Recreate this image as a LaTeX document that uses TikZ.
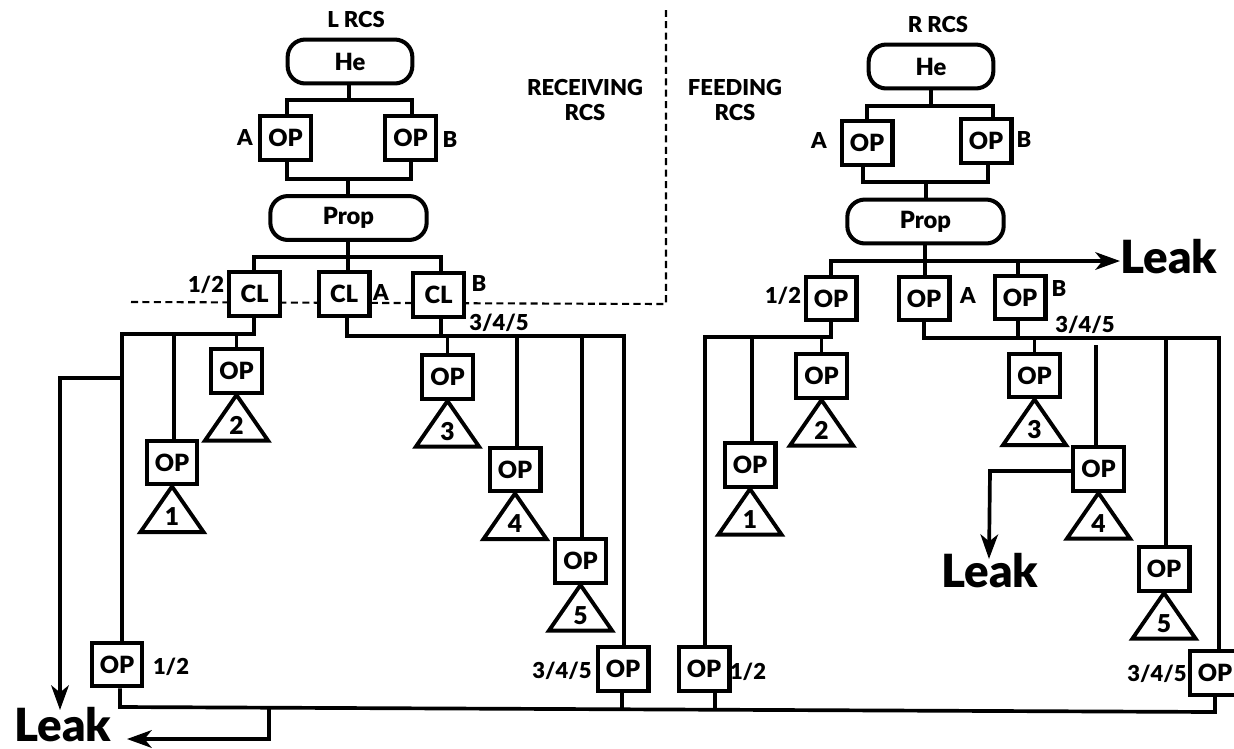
\documentclass[tikz,border=0pt]{standalone}
\usepackage{fontspec}
\setmainfont{Lato}[BoldFont={Lato Black}]
\usetikzlibrary{arrows.meta,shapes.geometric}
\tikzset{
  opbox/.style={draw, fill=white, line width=2.3pt, minimum width=29pt, minimum height=25pt, inner sep=0pt, font=\fontsize{13.5}{16}\selectfont\bfseries},
  tank/.style={draw, fill=white, line width=2.3pt, rounded corners=10pt, minimum height=25pt, inner sep=0pt, font=\fontsize{13.5}{16}\selectfont\bfseries},
  thruster/.style={draw, isosceles triangle, isosceles triangle stretches, shape border rotate=90, anchor=apex, minimum width=36pt, minimum height=26pt, inner sep=0pt, outer sep=0pt, line width=2.2pt, font=\fontsize{14}{16}\selectfont\bfseries},
  tag/.style={inner sep=0pt, font=\fontsize{12.5}{14.5}\selectfont\bfseries},
  leak/.style={inner sep=0pt, anchor=base west, font=\fontsize{26}{28}\selectfont\bfseries},
  wire/.style={line width=2.1pt},
  leakwire/.style={line width=2.1pt, -{Stealth[length=14pt,width=10pt,inset=4pt]}}
}
\begin{document}
\begin{tikzpicture}[x=0.02cm, y=-0.02cm]
    \clip (0,0) rectangle (1234,748);
    % Dividing line
    \coordinate (dashl) at (131,302);
    \coordinate (dashc) at (666,304);
    \coordinate (dasht) at (666,10);
    \draw[line width=1.2pt, dash pattern=on 4pt off 2.5pt] (dashl) -- (dashc) -- (dasht);
    % Left side, tanks and regulators
    \node[tag] (ltitle) at (356,19) {L RCS};
    \node[tank, minimum width=71pt] (lhe) at (350,61.5) {He};
    \node[opbox] (lopa) at (285.5,138) {OP};
    \node[opbox] (lopb) at (410.5,138) {OP};
    \node[tank, minimum width=89pt] (lprop) at (348.5,218) {Prop};
    \node[tag] (lopat) at (245,137) {A};
    \node[tag] (lopbt) at (450,139) {B};
    \coordinate (ltopl) at (287,100);
    \coordinate (ltopr) at (412,100);
    \coordinate (lbotl) at (287,179);
    \coordinate (lbotr) at (411,179);
    \draw[wire] (lhe.south -| 349,0) -- (349,100);
    \draw[wire] (lopa.north -| ltopl) -- (ltopl) -- (ltopr) -- (lopb.north -| ltopr);
    \draw[wire] (lopa.south -| lbotl) -- (lbotl) -- (lbotr) -- (lopb.south -| lbotr);
    \draw[wire] (348,179) -- (lprop.north -| 348,0);
    % Left side, crossfeed valves
    \node[opbox] (lcl1) at (254.5,294) {CL};
    \node[opbox] (lcl2) at (344,294) {CL};
    \node[opbox] (lcl3) at (438.5,295) {CL};
    \node[tag] (lcl1t) at (206,285) {1/2};
    \node[tag] (lcl2t) at (381,292) {A};
    \node[tag] (lcl3t) at (479,283) {B};
    \node[tag] (lbust) at (499,323) {3/4/5};
    \coordinate (lcrossl) at (254,257);
    \coordinate (lcrossr) at (441,257);
    \draw[wire] (lprop.south -| 348,0) -- (348,257);
    \draw[wire] (lcl1.north -| lcrossl) -- (lcrossl) -- (lcrossr) -- (lcl3.north -| lcrossr);
    \draw[wire] (348,257) -- (lcl2.north -| 348,0);
    % Left side, thrusters
    \node[opbox] (lop1) at (172,462.5) {OP};
    \node[opbox] (lop2) at (236.5,371) {OP};
    \node[opbox] (lop3) at (447.5,377) {OP};
    \node[opbox] (lop4) at (515,469.5) {OP};
    \node[opbox] (lop5) at (580.5,561) {OP};
    \node[thruster] (lth1) at (lop1.south) {1};
    \node[thruster] (lth2) at (lop2.south) {2};
    \node[thruster] (lth3) at (lop3.south) {3};
    \node[thruster] (lth4) at (lop4.south) {4};
    \node[thruster] (lth5) at (lop5.south) {5};
    \node[opbox] (lopc) at (117,664.5) {OP};
    \node[opbox] (lopd) at (623,669) {OP};
    \node[tag] (lopct) at (171,667) {1/2};
    \node[tag] (lopdt) at (562,671) {3/4/5};
    \coordinate (lbusl) at (122,334);
    \coordinate (lbusm) at (254,334);
    \coordinate (lbusn) at (347,336);
    \coordinate (lbusr) at (624,336);
    \draw[wire] (lcl1.south -| lbusm) -- (lbusm) -- (lbusl) -- (lopc.north -| lbusl);
    \draw[wire] (174,334) -- (lop1.north -| 174,0);
    \draw[wire] (lop2.north) -- (lop2.north |- lbusm);
    \draw[wire] (lcl2.south -| lbusn) -- (lbusn) -- (lbusr) -- (lopd.north -| lbusr);
    \draw[wire] (lcl3.south -| 441,0) -- (441,336);
    \draw[wire] (lop3.north) -- (lop3.north |- lbusn);
    \draw[wire] (517,336) -- (lop4.north -| 517,0);
    \draw[wire] (582,336) -- (lop5.north -| 582,0);
    % Right side, tanks and regulators
    \node[tag] (rtitle) at (938,24) {R RCS};
    \node[tank, minimum width=71pt] (rhe) at (931,66.5) {He};
    \node[opbox] (ropa) at (867,143) {OP};
    \node[opbox] (ropb) at (986,141) {OP};
    \node[tank, minimum width=89pt] (rprop) at (925.5,221.5) {Prop};
    \node[tag] (ropat) at (819,140) {A};
    \node[tag] (ropbt) at (1024,139) {B};
    \coordinate (rtopl) at (867,106);
    \coordinate (rtopr) at (993,106);
    \coordinate (rbotl) at (863,182);
    \coordinate (rbotr) at (988,182);
    \draw[wire] (rhe.south -| 931,0) -- (931,106);
    \draw[wire] (ropa.north -| rtopl) -- (rtopl) -- (rtopr) -- (ropb.north -| rtopr);
    \draw[wire] (ropa.south -| rbotl) -- (rbotl) -- (rbotr) -- (ropb.south -| rbotr);
    \draw[wire] (926,182) -- (rprop.north -| 926,0);
    % Right side, crossfeed valves
    \node[opbox] (rcl1) at (831,298.5) {OP};
    \node[opbox] (rcl2) at (924,298.5) {OP};
    \node[opbox] (rcl3) at (1020,297.5) {OP};
    \node[tag] (rcl1t) at (783,296) {1/2};
    \node[tag] (rcl2t) at (968,295) {A};
    \node[tag] (rcl3t) at (1059,288) {B};
    \node[tag] (rbust) at (1085,325) {3/4/5};
    \node[leak] (rleaka) at (1120,273) {Leak};
    \coordinate (rcrossl) at (831,261);
    \draw[wire] (rprop.south -| 925,0) -- (rcl2.north -| 925,0);
    \draw[wire] (rcl3.north -| 1018,0) -- (1018,261);
    \draw[leakwire] (rcl1.north) -- (rcrossl) -- (rleaka.west |- rcrossl);
    % Right side, thrusters
    \node[opbox] (rop1) at (750,465) {OP};
    \node[opbox] (rop2) at (821.5,376) {OP};
    \node[opbox] (rop3) at (1034.5,375.5) {OP};
    \node[opbox] (rop4) at (1098.5,469) {OP};
    \node[opbox] (rop5) at (1164,569) {OP};
    \node[thruster] (rth1) at (rop1.south) {1};
    \node[thruster] (rth2) at (rop2.south) {2};
    \node[thruster] (rth3) at (rop3.south) {3};
    \node[thruster] (rth4) at (rop4.south) {4};
    \node[thruster] (rth5) at (rop5.south) {5};
    \node[opbox] (ropc) at (704,669) {OP};
    \node[opbox] (ropd) at (1215,673) {OP};
    \node[tag] (ropct) at (748,672) {1/2};
    \node[tag] (ropdt) at (1157,674) {3/4/5};
    \node[leak] (rleakb) at (941,587) {Leak};
    \coordinate (rbusl) at (705,337);
    \coordinate (rbusm) at (831,337);
    \coordinate (rbusn) at (924,338);
    \coordinate (rbusr) at (1219,338);
    \coordinate (rfree) at (1096,345);
    \coordinate (rturn) at (990,471);
    \coordinate (rtip) at (989,559);
    \draw[wire] (rcl1.south) -- (rbusm) -- (rbusl) -- (ropc.north -| rbusl);
    \draw[wire] (752,337) -- (rop1.north -| 752,0);
    \draw[wire] (rop2.north) -- (rop2.north |- rbusm);
    \draw[wire] (rcl2.south) -- (rbusn) -- (rbusr) -- (ropd.north -| rbusr);
    \draw[wire] (rcl3.south -| 1018,0) -- (1018,338);
    \draw[wire] (rop3.north) -- (rop3.north |- rbusn);
    \draw[wire] (rfree) -- (rop4.north -| rfree);
    \draw[wire] (1166,338) -- (rop5.north -| 1166,0);
    \draw[leakwire] (rop4.west |- rturn) -- (rturn) -- (rtip);
    % Common line and leak at lower left
    \node[leak] (lleak) at (14,741) {Leak};
    \coordinate (busl) at (120,707);
    \coordinate (busr) at (1215,712);
    \coordinate (lturn) at (60,378);
    \coordinate (ltip) at (60,710);
    \coordinate (bturn) at (269,739);
    \coordinate (btip) at (127,739);
    \draw[leakwire] (lbusl |- lturn) -- (lturn) -- (ltip);
    \draw[wire] (lopc.south -| busl) -- (busl) -- (busr) -- (ropd.south -| busr);
    \draw[wire] (lopd.south -| 622,0) -- (622,710);
    \draw[wire] (ropc.south -| 715,0) -- (715,710);
    \draw[leakwire] (269,708) -- (bturn) -- (btip);
    % Side titles
    \node[tag, align=center] (recv) at (585,100) {RECEIVING\\RCS};
    \node[tag, align=center] (feed) at (735,100) {FEEDING\\RCS};
\end{tikzpicture}
\end{document}
